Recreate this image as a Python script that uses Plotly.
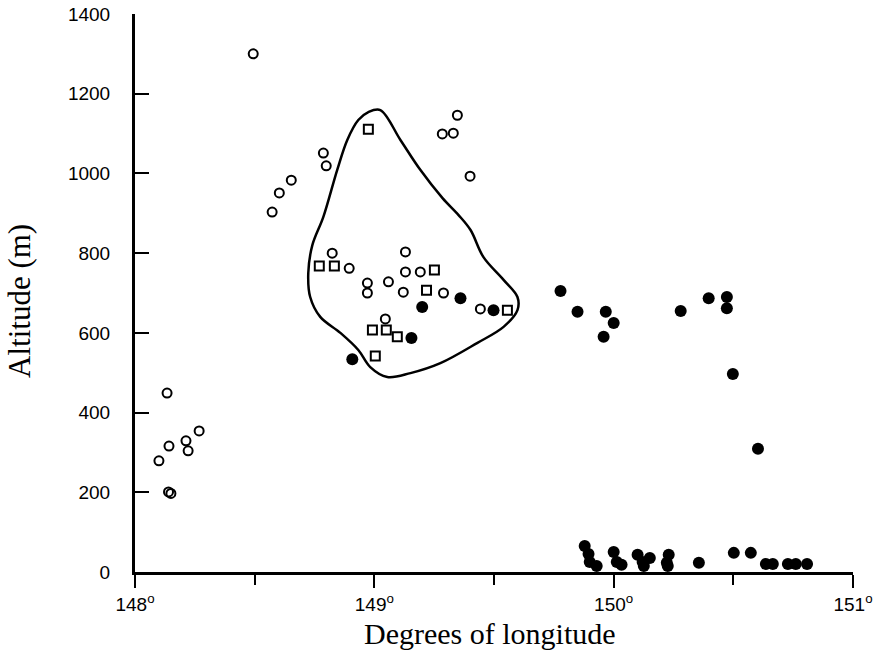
import plotly.graph_objects as go

# ---- data (longitude in degrees, altitude in m) ----
open_lon = [148.494, 148.787, 148.799, 148.653, 148.603, 148.573,
            149.347, 149.284, 149.330, 149.400,
            148.824, 148.895, 149.130, 149.130, 149.192, 148.971, 148.971,
            149.059, 149.121, 149.289, 149.443, 149.046,
            148.134, 148.268, 148.213, 148.222, 148.142, 148.100, 148.140, 148.150]
open_alt = [1300, 1051, 1019, 983, 951, 903,
            1146, 1099, 1101, 993,
            800, 762, 803, 753, 753, 725, 700,
            728, 702, 700, 660, 635,
            449, 354, 329, 304, 316, 279, 201, 197]

square_lon = [148.975, 148.770, 148.833, 149.251, 149.218, 149.556,
              148.992, 149.050, 149.096, 149.004]
square_alt = [1111, 768, 768, 758, 707, 657, 607, 607, 590, 542]

filled_lon = [149.360, 149.200, 149.498, 149.155, 148.908,
              149.778, 149.849, 149.967, 150.000, 149.958, 150.280, 150.397,
              150.473, 150.473, 150.498, 150.603,
              149.879, 149.895, 149.900, 149.929, 150.000, 150.013, 150.033,
              150.100, 150.121, 150.151, 150.126, 150.230, 150.222, 150.226,
              150.356, 150.502, 150.573, 150.636, 150.665, 150.728, 150.761, 150.808]
filled_alt = [687, 665, 657, 587, 534,
              705, 653, 653, 625, 590, 655, 687,
              690, 662, 497, 309,
              65, 45, 25, 15, 50, 25, 18,
              43, 25, 35, 15, 43, 23, 15,
              23, 48, 48, 20, 20, 20, 20, 20]

contour_lon = [149.025, 149.109, 149.192, 149.285, 149.351, 149.402, 149.456,
               149.540, 149.598, 149.598, 149.540, 149.431, 149.276, 149.151,
               149.054, 148.983, 148.933, 148.858, 148.774, 148.732, 148.724,
               148.741, 148.787, 148.845, 148.887, 148.933, 148.975, 149.025]
contour_alt = [1159, 1084, 1009, 938, 896, 858, 790,
               733, 690, 657, 615, 575, 524, 499,
               489, 514, 557, 600, 640, 690, 750,
               820, 891, 1009, 1084, 1134, 1154, 1159]

x_tickvals = [148, 149, 150, 151]
x_ticktext = ["148<sup>o</sup>", "149<sup>o</sup>", "150<sup>o</sup>", "151<sup>o</sup>"]
y_tickvals = [0, 200, 400, 600, 800, 1000, 1200, 1400]

fig = go.Figure()
fig.add_trace(go.Scatter(x=contour_lon, y=contour_alt, mode="lines",
                         line=dict(color="black", width=2.5, shape="spline", smoothing=1.0),
                         hoverinfo="skip", showlegend=False))
fig.add_trace(go.Scatter(x=open_lon, y=open_alt, mode="markers",
                         marker=dict(symbol="circle-open", size=9, color="black",
                                     line=dict(width=2, color="black")),
                         cliponaxis=False, showlegend=False))
fig.add_trace(go.Scatter(x=square_lon, y=square_alt, mode="markers",
                         marker=dict(symbol="square-open", size=9, color="black",
                                     line=dict(width=2, color="black")),
                         cliponaxis=False, showlegend=False))
fig.add_trace(go.Scatter(x=filled_lon, y=filled_alt, mode="markers",
                         marker=dict(symbol="circle", size=12, color="black"),
                         cliponaxis=False, showlegend=False))

tick_font = dict(family="Liberation Sans, Arial, sans-serif", size=19, color="black")
xtitle_font = dict(family="Liberation Serif, Times New Roman, serif", size=30, color="black")
ytitle_font = dict(family="Liberation Serif, Times New Roman, serif", size=31, color="black")

fig.update_layout(
    width=877, height=654,
    margin=dict(l=135, r=24, t=14, b=82),
    paper_bgcolor="white", plot_bgcolor="white",
    xaxis=dict(range=[148, 151], showgrid=False, zeroline=False, automargin=False,
               showline=True, linecolor="black", linewidth=3,
               ticks="outside", ticklen=13, tickwidth=2, tickcolor="black",
               tickvals=x_tickvals, ticktext=x_ticktext, tickfont=tick_font,
               minor=dict(ticks="outside", ticklen=10, tickwidth=2, tickcolor="black",
                          dtick=0.5, showgrid=False)),
    yaxis=dict(range=[0, 1400], showgrid=False, zeroline=False, automargin=False,
               showline=True, linecolor="black", linewidth=3,
               ticks="inside", ticklen=14, tickwidth=2, tickcolor="black",
               tickvals=y_tickvals, tickfont=tick_font, ticklabelstandoff=18),
    annotations=[
        dict(text="Degrees of longitude", xref="paper", yref="paper",
             x=0.494, y=-0.110, xanchor="center", yanchor="middle",
             showarrow=False, font=xtitle_font),
        dict(text="Altitude (m)", xref="paper", yref="paper",
             x=-0.160, y=0.486, xanchor="center", yanchor="middle",
             textangle=-90, showarrow=False, font=ytitle_font),
    ],
)

fig.write_html("out.html")
